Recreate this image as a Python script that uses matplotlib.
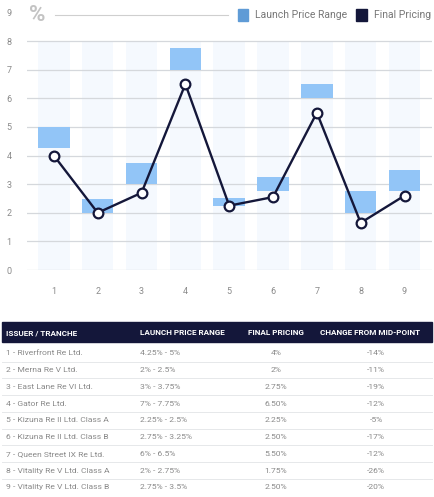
import matplotlib
matplotlib.use("Agg")
from matplotlib import pyplot as plt
from matplotlib.patches import Rectangle

plt.rcParams["font.family"] = ["Roboto", "DejaVu Sans"]

# chart data
tranches = [1, 2, 3, 4, 5, 6, 7, 8, 9]
launch_low = [4.25, 2.0, 3.0, 7.0, 2.25, 2.75, 6.0, 2.0, 2.75]
launch_high = [5.0, 2.5, 3.75, 7.75, 2.5, 3.25, 6.5, 2.75, 3.5]
final_pricing = [4.0, 2.0, 2.7, 6.5, 2.25, 2.55, 5.5, 1.65, 2.6]
y_ticks = [0, 1, 2, 3, 4, 5, 6, 7, 8, 9]

# table data
table_header = ["ISSUER / TRANCHE", "LAUNCH PRICE RANGE", "FINAL PRICING", "CHANGE FROM MID-POINT"]
issuers = ["1 - Riverfront Re Ltd.", "2 - Merna Re V Ltd.", "3 - East Lane Re VI Ltd.",
           "4 - Gator Re Ltd.", "5 - Kizuna Re II Ltd. Class A", "6 - Kizuna Re II Ltd. Class B",
           "7 - Queen Street IX Re Ltd.", "8 - Vitality Re V Ltd. Class A",
           "9 - Vitality Re V Ltd. Class B"]
range_txt = ["4.25% - 5%", "2% - 2.5%", "3% - 3.75%", "7% - 7.75%", "2.25% - 2.5%",
             "2.75% - 3.25%", "6% - 6.5%", "2% - 2.75%", "2.75% - 3.5%"]
final_txt = ["4%", "2%", "2.75%", "6.50%", "2.25%", "2.50%", "5.50%", "1.75%", "2.50%"]
change_txt = ["-14%", "-11%", "-19%", "-12%", "-5%", "-17%", "-12%", "-26%", "-20%"]

W, H = 434, 497
fig = plt.figure(figsize=(W / 100, H / 100), dpi=100)

BAR = "#92c5f7"
STRIPE = "#f5f9fe"
NAVY = "#14173a"
GRID = "#d5d8dc"
TXT = "#8a8a8a"

ax = fig.add_axes([26.7 / W, 1 - 270 / H, 405 / W, 257.4 / H])
bw = 0.72
ax.bar(tranches, [8] * len(tranches), width=bw, color=STRIPE, zorder=0)
ax.bar(tranches, [h - l for l, h in zip(launch_low, launch_high)], bottom=launch_low,
       width=bw, color=BAR, zorder=1)
ax.plot(tranches, final_pricing, color=NAVY, lw=1.7, marker="o", ms=7,
        mfc="white", mec=NAVY, mew=1.6, zorder=3)

for v in y_ticks[:-1]:
    ax.axhline(v, color=GRID, lw=0.9, zorder=0.5)
ax.set_xlim(0.38, 9.62)
ax.set_ylim(0, 9)
ax.set_yticks(y_ticks)
ax.set_xticks(tranches)
ax.tick_params(length=0, labelsize=6.5, labelcolor=TXT)
ax.tick_params(axis="y", pad=11)
ax.tick_params(axis="x", pad=12)
for s in ax.spines.values():
    s.set_visible(False)

# overlay in pixel coordinates for header, legend and table
ov = fig.add_axes([0, 0, 1, 1], zorder=5)
ov.set_xlim(0, W)
ov.set_ylim(H, 0)
ov.axis("off")
ov.patch.set_alpha(0)

ov.text(29, 15, "%", fontsize=16, fontweight="bold", color="#c3c3c3", va="center", ha="left")
ov.plot([55, 228], [15, 15], color="#cfcfcf", lw=0.8)
ov.add_patch(Rectangle((238, 8.5), 10, 12, color="#5f9bd6"))
ov.text(255, 15, "Launch Price Range", fontsize=7.5, color="#777777", va="center")
ov.add_patch(Rectangle((356, 8.5), 10.5, 12, color=NAVY))
ov.text(374, 15, "Final Pricing", fontsize=7.5, color="#777777", va="center")

# table
ov.add_patch(Rectangle((1.5, 322), 430.5, 20, color=NAVY))
hx = [6, 140, 276, 370]
has = ["left", "left", "center", "center"]
for x, t, a in zip(hx, table_header, has):
    ov.text(x, 332.5, t, fontsize=5.9, fontweight="bold", color="white", ha=a, va="center")

row_h = 16.75
for i in range(len(issuers)):
    yc = 353.3 + i * row_h
    ov.text(6, yc, issuers[i], fontsize=6.1, color=TXT, va="center")
    ov.text(140, yc, range_txt[i], fontsize=6.1, color=TXT, va="center")
    ov.text(276, yc, final_txt[i], fontsize=6.1, color=TXT, va="center", ha="center")
    ov.text(376, yc, change_txt[i], fontsize=6.1, color=TXT, va="center", ha="center")
    if i < len(issuers) - 1:
        ov.plot([1.5, 432], [yc + row_h / 2, yc + row_h / 2], color="#e6e8ea", lw=0.7)

fig.savefig("out.png", dpi=100, facecolor="white")
